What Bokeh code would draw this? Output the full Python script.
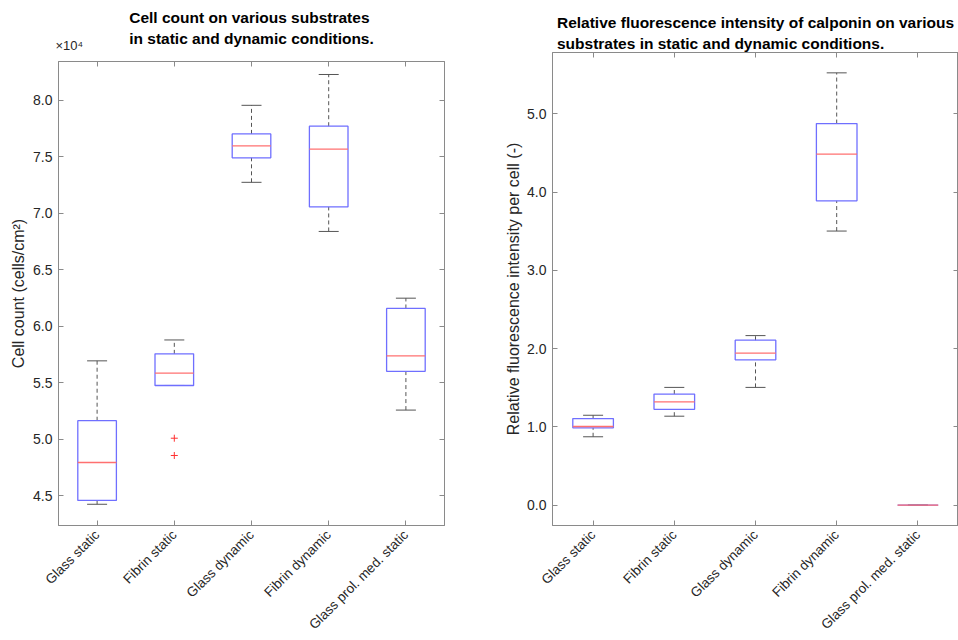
import math
from bokeh.plotting import figure
from bokeh.layouts import row, column
from bokeh.models import (Range1d, FixedTicker, LinearAxis, PrintfTickFormatter,
                          ColumnDataSource, Whisker, TeeHead)
from bokeh.embed import file_html
from bokeh.resources import INLINE

# ---------------- data ----------------
categories = ["Glass static", "Fibrin static", "Glass dynamic", "Fibrin dynamic",
              "Glass prol. med. static"]
positions = [1, 2, 3, 4, 5]

# Cell count, in units of 10^4 cells/cm^2
cc_lower = [4.423, 5.475, 7.274, 6.839, 5.257]
cc_q1 = [4.457, 5.475, 7.491, 7.056, 5.600]
cc_med = [4.793, 5.584, 7.597, 7.568, 5.737]
cc_q3 = [5.163, 5.755, 7.703, 7.771, 6.157]
cc_upper = [5.693, 5.878, 7.956, 8.229, 6.248]
cc_out_x = [2, 2]
cc_out_y = [5.008, 4.855]
cc_ticks = [4.5, 5.0, 5.5, 6.0, 6.5, 7.0, 7.5, 8.0]
cc_exponent = "×10⁴"

# Relative fluorescence intensity of calponin per cell
fl_lower = [0.874, 1.137, 1.505, 3.503, 0.0]
fl_q1 = [0.988, 1.225, 1.857, 3.889, 0.0]
fl_med = [1.005, 1.319, 1.943, 4.487, 0.0]
fl_q3 = [1.107, 1.420, 2.108, 4.877, 0.0]
fl_upper = [1.149, 1.505, 2.167, 5.525, 0.0]
fl_ticks = [0.0, 1.0, 2.0, 3.0, 4.0, 5.0]

BOX_W = 0.5
X_MIN, X_MAX = 0.5, 5.5
EXP_POS = 0.64          # where the x10^4 multiplier label is centred
CC_RANGE = (4.235, 8.344)
FL_RANGE = (-0.26, 5.785)

FONT = "Liberation Sans"
TXT = "#262626"
AX = "#8a8a8a"
BLUE = "#6f6fff"
RED = "#ff7070"
WHISK = "#555555"


def style_axis(ax, size="14px"):
    ax.axis_line_color = AX
    ax.major_tick_line_color = AX
    ax.major_tick_in = 5
    ax.major_tick_out = 0
    ax.minor_tick_line_color = None
    ax.major_label_text_font = FONT
    ax.major_label_text_font_size = size
    ax.major_label_text_color = TXT
    ax.axis_label_text_font = FONT
    ax.axis_label_text_font_size = "16px"
    ax.axis_label_text_font_style = "normal"
    ax.axis_label_text_color = TXT


def make_plot(title, ylabel, yrange, yticks, lower, q1, med, q3, upper,
              width, height, bl, br, bt, bb, title_standoff, ylab_standoff,
              exponent=None):
    p = figure(width=width, height=height, x_range=Range1d(X_MIN, X_MAX),
               y_range=Range1d(*yrange), output_backend="svg", toolbar_location=None,
               min_border_left=bl, min_border_right=br, min_border_top=bt,
               min_border_bottom=bb)
    p.grid.visible = False
    p.outline_line_color = AX
    p.title.text = title
    p.title.align = "center"
    p.title.text_font = FONT
    p.title.text_font_size = "15.5px"
    p.title.text_font_style = "bold"
    p.title.text_color = "#000000"
    p.title.text_line_height = 1.29
    p.title.standoff = title_standoff

    xa = p.xaxis[0]
    style_axis(xa, "13.5px")
    xa.ticker = FixedTicker(ticks=positions)
    xa.major_label_overrides = {pos: name for pos, name in zip(positions, categories)}
    xa.major_label_orientation = math.pi / 4
    xa.major_label_standoff = 7

    ya = p.yaxis[0]
    style_axis(ya)
    ya.ticker = FixedTicker(ticks=yticks)
    ya.formatter = PrintfTickFormatter(format="%.1f")
    ya.axis_label = ylabel
    ya.major_label_standoff = 6
    ya.axis_label_standoff = ylab_standoff

    top = LinearAxis(ticker=FixedTicker(ticks=positions))
    style_axis(top, "0px")
    top.major_label_overrides = {pos: "" for pos in positions}
    top.major_label_standoff = 0
    p.add_layout(top, "above")

    if exponent:
        ex = LinearAxis(ticker=FixedTicker(ticks=[EXP_POS]))
        style_axis(ex, "13px")
        ex.axis_line_color = None
        ex.major_tick_line_color = None
        ex.major_label_overrides = {EXP_POS: exponent}
        ex.major_label_standoff = 9
        p.add_layout(ex, "above")

    right = LinearAxis(ticker=FixedTicker(ticks=yticks))
    style_axis(right, "0px")
    right.major_label_overrides = {t: "" for t in yticks}
    right.major_label_standoff = 0
    p.add_layout(right, "right")

    src = ColumnDataSource(dict(x=positions, lower=lower, q1=q1, med=med, q3=q3, upper=upper,
                                x0=[v - BOX_W / 2 for v in positions],
                                x1=[v + BOX_W / 2 for v in positions]))
    up = Whisker(base="x", lower="q3", upper="upper", source=src, dimension="height",
                 line_color=WHISK, line_dash="4 3", line_width=1, level="underlay",
                 upper_head=TeeHead(size=20, line_color=WHISK, line_width=1),
                 lower_head=None)
    lo = Whisker(base="x", lower="lower", upper="q1", source=src, dimension="height",
                 line_color=WHISK, line_dash="4 3", line_width=1, level="underlay",
                 lower_head=TeeHead(size=20, line_color=WHISK, line_width=1),
                 upper_head=None)
    p.add_layout(up)
    p.add_layout(lo)
    p.vbar(x="x", width=BOX_W, bottom="q1", top="q3", source=src, fill_color=None,
           line_color=BLUE, line_width=1.3)
    p.segment(x0="x0", x1="x1", y0="med", y1="med", source=src,
              line_color=RED, line_width=1.3)
    return p


p1 = make_plot("Cell count on various substrates\nin static and dynamic conditions.",
               "Cell count (cells/cm²)", CC_RANGE, cc_ticks,
               cc_lower, cc_q1, cc_med, cc_q3, cc_upper,
               width=490, height=640, bl=58, br=46, bt=61, bb=113,
               title_standoff=-26, ylab_standoff=3, exponent=cc_exponent)
p1.scatter(x=cc_out_x, y=cc_out_y, marker="cross", size=7, line_color="#ff3030",
           line_width=1)

p2 = make_plot("Relative fluorescence intensity of calponin on various\nsubstrates in static and dynamic conditions.",
               "Relative fluorescence intensity per cell (-)", FL_RANGE, fl_ticks,
               fl_lower, fl_q1, fl_med, fl_q3, fl_upper,
               width=468, height=640, bl=62, br=0, bt=52, bb=113,
               title_standoff=0, ylab_standoff=2)

layout = row(column(p1), column(p2))
open("out.html", "w").write(file_html(layout, INLINE))
